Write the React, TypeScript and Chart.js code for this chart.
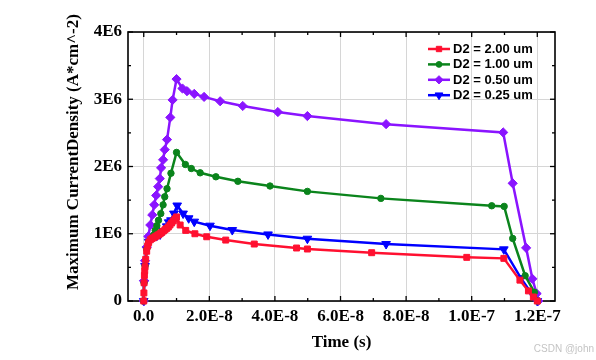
import React, { useEffect, useRef } from 'react';
import { Chart, registerables } from 'chart.js';
import { drawPoint } from 'chart.js/helpers';

Chart.register(...registerables);

// Times in ns, current density in units of 1E6 A*cm^-2
const SERIES_LABELS = ['D2 = 2.00 um', 'D2 = 1.00 um', 'D2 = 0.50 um', 'D2 = 0.25 um'];

const RED_T = [0, 0.05, 0.1, 0.2, 0.3, 0.4, 0.6, 0.9, 1.2, 1.5, 2.0, 2.5, 3.0, 3.5, 4.0, 4.5, 5.0, 5.5, 6.0, 6.5, 7.0, 7.5, 8.0, 8.5, 9.0, 9.5, 10.0, 11.1, 12.8, 15.6, 19.2, 25.0, 33.7, 46.6, 49.9, 69.5, 98.5, 109.8, 114.7, 117.3, 118.8, 120.0];
const RED_J = [0, 0.12, 0.27, 0.38, 0.45, 0.51, 0.62, 0.74, 0.82, 0.87, 0.91, 0.93, 0.94, 0.955, 0.97, 0.985, 1.0, 1.02, 1.04, 1.06, 1.08, 1.1, 1.13, 1.16, 1.19, 1.22, 1.25, 1.13, 1.05, 1.0, 0.955, 0.906, 0.847, 0.788, 0.773, 0.718, 0.649, 0.634, 0.31, 0.15, 0.06, 0];

const GREEN_T = [0, 0.1, 0.4, 0.9, 1.5, 2.5, 3.0, 3.5, 4.0, 4.5, 5.2, 5.9, 6.4, 7.1, 8.3, 10.0, 12.7, 14.5, 17.2, 22.0, 28.7, 38.5, 49.9, 72.3, 106.1, 109.9, 112.5, 116.3, 119.1, 120.0];
const GREEN_J = [0, 0.27, 0.52, 0.77, 0.88, 0.93, 0.98, 1.05, 1.12, 1.2, 1.3, 1.43, 1.55, 1.67, 1.9, 2.21, 2.03, 1.97, 1.906, 1.847, 1.78, 1.71, 1.63, 1.526, 1.416, 1.407, 0.93, 0.376, 0.13, 0];

const PURPLE_T = [0, 0.1, 0.4, 0.9, 1.4, 2.0, 2.6, 3.2, 3.8, 4.4, 4.9, 5.3, 5.9, 6.4, 7.1, 8.1, 8.8, 10.0, 11.8, 13.2, 15.4, 18.4, 23.3, 30.2, 40.9, 49.9, 73.9, 109.6, 112.5, 116.6, 118.5, 119.8, 120.3];
const PURPLE_J = [0, 0.3, 0.6, 0.8, 0.96, 1.13, 1.28, 1.43, 1.57, 1.7, 1.82, 1.98, 2.1, 2.25, 2.4, 2.73, 2.99, 3.3, 3.16, 3.12, 3.08, 3.035, 2.97, 2.9, 2.81, 2.75, 2.63, 2.507, 1.75, 0.79, 0.33, 0.11, 0];

const BLUE_T = [0, 0.1, 0.4, 0.9, 1.5, 2.0, 3.0, 4.0, 5.0, 6.0, 7.0, 7.6, 8.3, 9.2, 10.2, 12.0, 13.7, 15.4, 20.2, 27.0, 37.9, 49.9, 73.9, 109.8, 115.0, 119.0, 120.0];
const BLUE_J = [0, 0.27, 0.52, 0.77, 0.88, 0.92, 0.95, 0.97, 0.99, 1.04, 1.11, 1.17, 1.2, 1.3, 1.42, 1.3, 1.23, 1.18, 1.12, 1.055, 0.99, 0.926, 0.847, 0.768, 0.34, 0.06, 0];

const X_TICKS = [0, 2e-8, 4e-8, 6e-8, 8e-8, 1.0e-7, 1.2e-7];
const X_TICK_LABELS = ['0.0', '2.0E-8', '4.0E-8', '6.0E-8', '8.0E-8', '1.0E-7', '1.2E-7'];
const X_MINOR = [1e-8, 3e-8, 5e-8, 7e-8, 9e-8, 1.1e-7];
const Y_TICKS = [0, 1e6, 2e6, 3e6, 4e6];
const Y_TICK_LABELS = ['0', '1E6', '2E6', '3E6', '4E6'];
const Y_MINOR = [0.5e6, 1.5e6, 2.5e6, 3.5e6];
const Y_TITLE = 'Maximum CurrentDensity (A*cm^-2)';
const X_TITLE = 'Time (s)';

const NS = 1e-9;
const E6 = 1e6;

const COLORS = ['#ff1030', '#0b841c', '#8a14ff', '#0000ff'];
const STYLES: any[] = ['rect', 'circle', 'rectRot', 'triangle'];
const RADII = [4.2, 3.2, 4.6, 5];
const ROTS = [0, 0, 0, 180];

const SERIF = "'Liberation Serif', 'Times New Roman', serif";
const SANS = "'Liberation Sans', Arial, sans-serif";

function toPoints(t: number[], j: number[]) {
  return t.map((v, i) => ({ x: v * NS, y: j[i] * E6 }));
}

const framePlugin = {
  id: 'frameTicks',
  beforeDatasetsDraw(chart: any) {
    const { ctx, chartArea, scales } = chart;
    const { left, right, top, bottom } = chartArea;
    const x = scales.x, y = scales.y;
    ctx.save();
    ctx.strokeStyle = '#000';
    ctx.lineWidth = 1.6;
    ctx.strokeRect(left, top, right - left, bottom - top);
    ctx.lineWidth = 1.3;
    const seg = (x1: number, y1: number, x2: number, y2: number) => {
      ctx.beginPath(); ctx.moveTo(x1, y1); ctx.lineTo(x2, y2); ctx.stroke();
    };
    X_TICKS.forEach(v => { const p = x.getPixelForValue(v); seg(p, bottom, p, bottom - 5); seg(p, top, p, top + 5); });
    X_MINOR.forEach(v => { const p = x.getPixelForValue(v); seg(p, bottom, p, bottom - 3); seg(p, top, p, top + 3); });
    Y_TICKS.forEach(v => { const p = y.getPixelForValue(v); seg(left, p, left + 5, p); seg(right, p, right - 5, p); });
    Y_MINOR.forEach(v => { const p = y.getPixelForValue(v); seg(left, p, left + 3, p); seg(right, p, right - 3, p); });
    // y axis title
    ctx.save();
    ctx.translate(74, 152);
    ctx.rotate(-Math.PI / 2);
    ctx.fillStyle = '#000';
    ctx.font = `bold 17px ${SERIF}`;
    ctx.textAlign = 'center';
    ctx.textBaseline = 'middle';
    ctx.fillText(Y_TITLE, 0, 0);
    ctx.restore();
    ctx.restore();
  },
};

const legendPlugin = {
  id: 'customLegend',
  afterDraw(chart: any) {
    const { ctx } = chart;
    ctx.save();
    chart.data.datasets.forEach((ds: any, i: number) => {
      const yy = 49 + i * 15.4;
      ctx.strokeStyle = ds.borderColor;
      ctx.lineWidth = 2.5;
      ctx.beginPath(); ctx.moveTo(428, yy); ctx.lineTo(450, yy); ctx.stroke();
      ctx.fillStyle = ds.borderColor;
      ctx.lineWidth = 1;
      drawPoint(ctx, { pointStyle: ds.pointStyle, rotation: ds.pointRotation || 0, radius: ds.pointRadius * 0.9, borderWidth: 1 } as any, 439, yy);
      ctx.fillStyle = '#000';
      ctx.font = `bold 13px ${SANS}`;
      ctx.textBaseline = 'middle';
      ctx.textAlign = 'left';
      ctx.fillText(ds.label, 453, yy + 0.5);
    });
    ctx.fillStyle = '#c4c4c4';
    ctx.font = `10px ${SANS}`;
    ctx.textAlign = 'right';
    ctx.fillText('CSDN @john', 594, 349);
    ctx.restore();
  },
};

export default function App() {
  const ref = useRef<HTMLCanvasElement | null>(null);
  useEffect(() => {
    if (!ref.current) return;
    const series = [
      toPoints(RED_T, RED_J),
      toPoints(GREEN_T, GREEN_J),
      toPoints(PURPLE_T, PURPLE_J),
      toPoints(BLUE_T, BLUE_J),
    ];
    const chart = new Chart(ref.current, {
      type: 'line',
      data: {
        datasets: series.map((d, i) => ({
          label: SERIES_LABELS[i],
          data: d,
          borderColor: COLORS[i],
          backgroundColor: COLORS[i],
          pointBackgroundColor: COLORS[i],
          pointBorderColor: COLORS[i],
          borderWidth: 2.5,
          pointStyle: STYLES[i],
          pointRotation: ROTS[i],
          pointRadius: RADII[i],
          pointBorderWidth: 1,
          tension: 0,
          clip: false as any,
        })),
      },
      options: {
        animation: false,
        responsive: false,
        devicePixelRatio: 1,
        layout: { padding: { left: 58, right: 41, top: 32, bottom: 3 } },
        plugins: { legend: { display: false }, tooltip: { enabled: false } },
        scales: {
          x: {
            type: 'linear',
            min: -4.8e-9,
            max: 1.254e-7,
            afterFit: (s: any) => { s.height = 56; },
            afterBuildTicks: (s: any) => { s.ticks = X_TICKS.map(v => ({ value: v })); },
            ticks: {
              color: '#000',
              padding: 5,
              maxRotation: 0,
              autoSkip: false,
              font: { family: SERIF, size: 17, weight: 'bold' },
              callback: (v: any) => { const k = X_TICKS.findIndex(t => Math.abs(t - v) < 1e-12); return k >= 0 ? X_TICK_LABELS[k] : ''; },
            },
            grid: { color: '#d6d6d6', lineWidth: 1, drawTicks: false },
            border: { display: false },
            title: { display: true, text: X_TITLE, color: '#000', font: { family: SERIF, size: 17, weight: 'bold' } },
          },
          y: {
            type: 'linear',
            min: 0,
            max: 4e6,
            afterFit: (s: any) => { s.width = 70; },
            afterBuildTicks: (s: any) => { s.ticks = Y_TICKS.map(v => ({ value: v })); },
            ticks: {
              color: '#000',
              padding: 6,
              autoSkip: false,
              font: { family: SERIF, size: 17, weight: 'bold' },
              callback: (v: any) => { const k = Y_TICKS.findIndex(t => Math.abs(t - v) < 1); return k >= 0 ? Y_TICK_LABELS[k] : ''; },
            },
            grid: { color: '#d6d6d6', lineWidth: 1, drawTicks: false },
            border: { display: false },
            title: { display: false },
          },
        },
      },
      plugins: [framePlugin, legendPlugin],
    } as any);
    return () => chart.destroy();
  }, []);
  return (
    <div style={{ position: 'absolute', left: 0, top: 0, width: 596, height: 360, background: '#fff' }}>
      <canvas ref={ref} width={596} height={360} />
    </div>
  );
}
